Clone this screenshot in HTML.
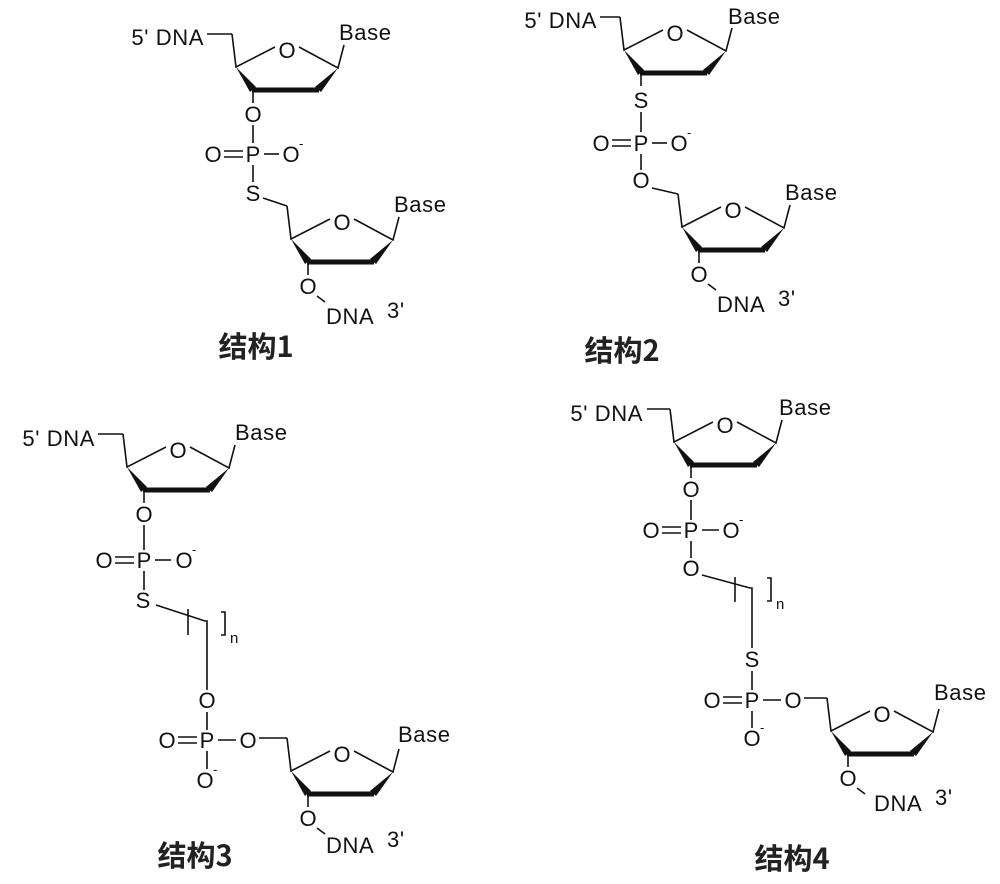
<!DOCTYPE html>
<html><head><meta charset="utf-8"><style>
html,body{margin:0;padding:0;background:#fff;}
svg{display:block}
text{font-family:"Liberation Sans","Noto Sans CJK SC",sans-serif;fill:#111;font-size:22px;letter-spacing:0.6px}
.c{text-anchor:middle;letter-spacing:0}
.e{text-anchor:end}
.lab{font-family:"Noto Sans CJK SC","WenQuanYi Zen Hei",sans-serif;font-weight:bold;font-size:29px;text-anchor:middle;fill:#222;letter-spacing:0}
.sup{font-size:13px}
.nn{font-size:15px}
line,path.b{stroke:#111;stroke-width:1.6;fill:none}
</style></head><body>
<svg width="1000" height="884" viewBox="0 0 1000 884" xmlns="http://www.w3.org/2000/svg">
<defs>
<g id="sug">
<path class="b" d="M-55,-16 L-51,17 L-12,-3 M12,-3 L51,18 L57,-5"/>
<polygon points="-51,17 -37,42 -31,37" fill="#111"/>
<line x1="-35" y1="40" x2="32" y2="40" style="stroke-width:5"/>
<polygon points="51,18 28,37 34,42" fill="#111"/>
<line x1="-34" y1="42" x2="-34" y2="53"/>
</g>
</defs>

<!-- Structure 1 -->
<use href="#sug" x="287" y="50"/>
<text class="e" x="204" y="45">5' DNA</text>
<line x1="207" y1="34" x2="232" y2="34"/>
<text class="c" x="287" y="58">O</text>
<text x="339" y="40">Base</text>
<text class="c" x="253" y="122">O</text>
<line x1="253" y1="125" x2="253" y2="143"/>
<text class="c" x="213" y="162">O</text>
<line x1="224" y1="151" x2="243" y2="151"/><line x1="224" y1="157" x2="243" y2="157"/>
<text class="c" x="253" y="162">P</text>
<line x1="264" y1="154" x2="279" y2="154"/>
<text class="c" x="291" y="162">O</text><text class="sup" x="299" y="148">-</text>
<line x1="253" y1="165" x2="253" y2="182"/>
<text class="c" x="253" y="201">S</text>
<line x1="263" y1="198" x2="287" y2="206"/>
<use href="#sug" x="342" y="222"/>
<text class="c" x="342" y="230">O</text>
<text x="394" y="212">Base</text>
<text class="c" x="308" y="294">O</text>
<line x1="317" y1="296" x2="325" y2="302"/>
<text x="326" y="324">DNA</text><text x="387" y="318">3'</text>
<text class="lab" x="256" y="357">结构1</text>

<!-- Structure 2 -->
<use href="#sug" x="675" y="33"/>
<text class="e" x="597" y="28">5' DNA</text>
<line x1="600" y1="17" x2="620" y2="17"/>
<text class="c" x="675" y="41">O</text>
<text x="728" y="24">Base</text>
<text class="c" x="641" y="108">S</text>
<line x1="641" y1="112" x2="641" y2="132"/>
<text class="c" x="601" y="151">O</text>
<line x1="612" y1="140" x2="631" y2="140"/><line x1="612" y1="146" x2="631" y2="146"/>
<text class="c" x="641" y="151">P</text>
<line x1="652" y1="143" x2="667" y2="143"/>
<text class="c" x="679" y="151">O</text><text class="sup" x="687" y="137">-</text>
<line x1="641" y1="154" x2="641" y2="170"/>
<text class="c" x="641" y="188">O</text>
<line x1="652" y1="188" x2="678" y2="194"/>
<use href="#sug" x="733" y="210"/>
<text class="c" x="733" y="218">O</text>
<text x="785" y="200">Base</text>
<text class="c" x="699" y="282">O</text>
<line x1="708" y1="284" x2="716" y2="290"/>
<text x="717" y="312">DNA</text><text x="778" y="306">3'</text>
<text class="lab" x="622" y="361">结构2</text>

<!-- Structure 3 -->
<use href="#sug" x="178" y="450"/>
<text class="e" x="95" y="446">5' DNA</text>
<line x1="98" y1="434" x2="123" y2="434"/>
<text class="c" x="178" y="458">O</text>
<text x="235" y="440">Base</text>
<text class="c" x="144" y="522">O</text>
<line x1="144" y1="525" x2="144" y2="550"/>
<text class="c" x="104" y="568">O</text>
<line x1="115" y1="557" x2="134" y2="557"/><line x1="115" y1="563" x2="134" y2="563"/>
<text class="c" x="144" y="568">P</text>
<line x1="155" y1="560" x2="171" y2="560"/>
<text class="c" x="184" y="568">O</text><text class="sup" x="192" y="554">-</text>
<line x1="144" y1="571" x2="144" y2="590"/>
<text class="c" x="143" y="608">S</text>
<path class="b" d="M156,605 L205,621 L207,621 L207,690"/>
<line x1="188" y1="609" x2="188" y2="635"/>
<path class="b" d="M221,612 L225,612 L225,635 L221,635"/>
<text class="nn" x="230" y="643">n</text>
<text class="c" x="207" y="708">O</text>
<line x1="207" y1="712" x2="207" y2="730"/>
<text class="c" x="167" y="748">O</text>
<line x1="178" y1="737" x2="197" y2="737"/><line x1="178" y1="743" x2="197" y2="743"/>
<text class="c" x="207" y="748">P</text>
<line x1="218" y1="740" x2="236" y2="740"/>
<text class="c" x="248" y="748">O</text>
<line x1="259" y1="738" x2="287" y2="738"/>
<line x1="207" y1="751" x2="207" y2="769"/>
<text class="c" x="205" y="788">O</text><text class="sup" x="213" y="774">-</text>
<use href="#sug" x="342" y="754"/>
<text class="c" x="342" y="762">O</text>
<text x="398" y="742">Base</text>
<text class="c" x="308" y="826">O</text>
<line x1="317" y1="828" x2="325" y2="834"/>
<text x="326" y="853">DNA</text><text x="387" y="847">3'</text>
<text class="lab" x="195" y="866">结构3</text>

<!-- Structure 4 -->
<use href="#sug" x="725" y="425"/>
<text class="e" x="643" y="421">5' DNA</text>
<line x1="647" y1="409" x2="670" y2="409"/>
<text class="c" x="725" y="433">O</text>
<text x="779" y="415">Base</text>
<text class="c" x="691" y="497">O</text>
<line x1="691" y1="500" x2="691" y2="520"/>
<text class="c" x="651" y="538">O</text>
<line x1="662" y1="527" x2="681" y2="527"/><line x1="662" y1="533" x2="681" y2="533"/>
<text class="c" x="691" y="538">P</text>
<line x1="702" y1="530" x2="719" y2="530"/>
<text class="c" x="731" y="538">O</text><text class="sup" x="739" y="524">-</text>
<line x1="691" y1="541" x2="691" y2="558"/>
<text class="c" x="691" y="576">O</text>
<path class="b" d="M702,575 L750,588 L752,588 L752,648"/>
<line x1="735" y1="577" x2="735" y2="602"/>
<path class="b" d="M767,578 L771,578 L771,601 L767,601"/>
<text class="nn" x="776" y="609">n</text>
<text class="c" x="752" y="667">S</text>
<line x1="752" y1="671" x2="752" y2="690"/>
<text class="c" x="712" y="708">O</text>
<line x1="723" y1="697" x2="742" y2="697"/><line x1="723" y1="703" x2="742" y2="703"/>
<text class="c" x="752" y="708">P</text>
<line x1="763" y1="700" x2="781" y2="700"/>
<text class="c" x="793" y="708">O</text>
<line x1="804" y1="698" x2="827" y2="698"/>
<line x1="752" y1="711" x2="752" y2="728"/>
<text class="c" x="752" y="746">O</text><text class="sup" x="760" y="732">-</text>
<use href="#sug" x="882" y="714"/>
<text class="c" x="882" y="722">O</text>
<text x="934" y="700">Base</text>
<text class="c" x="848" y="786">O</text>
<line x1="857" y1="788" x2="865" y2="794"/>
<text x="874" y="811">DNA</text><text x="935" y="805">3'</text>
<text class="lab" x="792" y="869">结构4</text>
</svg>
</body></html>
